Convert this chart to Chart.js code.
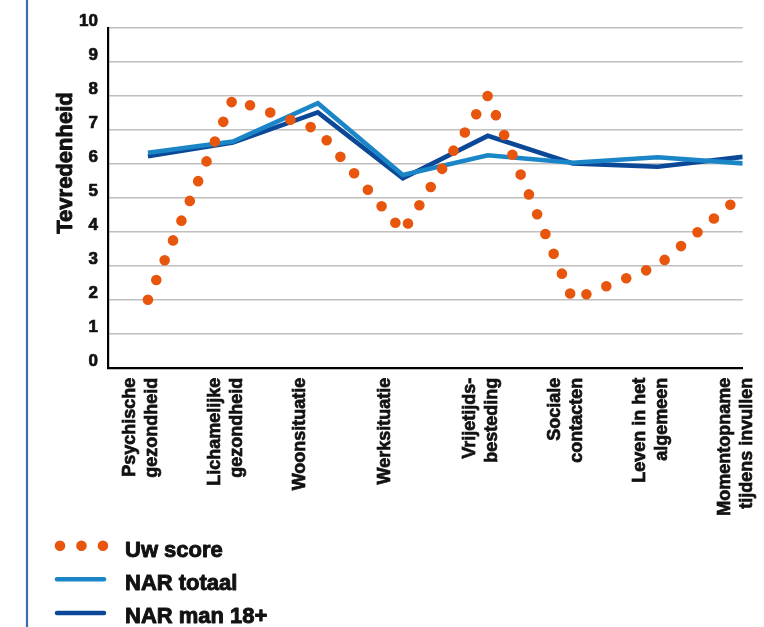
<!DOCTYPE html>
<html><head><meta charset="utf-8">
<script src="https://cdn.jsdelivr.net/npm/chart.js@4.4.1/dist/chart.umd.min.js"></script>
<style>html,body{margin:0;padding:0;background:#fff;}canvas{display:block;}</style>
</head><body>
<canvas id="c" width="764" height="627" style="width:764px;height:627px"></canvas>
<script>
const categories = [
  ["Psychische", "gezondheid"],
  ["Lichamelijke", "gezondheid"],
  "Woonsituatie",
  "Werksituatie",
  ["Vrijetijds-", "besteding"],
  ["Sociale", "contacten"],
  ["Leven in het", "algemeen"],
  ["Momentopname", "tijdens invullen"]
];
const uwScore   = [2.0, 7.9, 7.0, 4.0, 8.0, 2.0, 3.0, 5.1];
const narTotaal = [6.32, 6.65, 7.78, 5.67, 6.25, 6.03, 6.19, 6.01];
const narMan    = [6.22, 6.62, 7.51, 5.57, 6.82, 6.01, 5.91, 6.20];
const yTicks    = [0, 1, 2, 3, 4, 5, 6, 7, 8, 9, 10];
const seriesNames = ["Uw score", "NAR totaal", "NAR man 18+"];
const yTitle = "Tevredenheid";

const FONT = "'Liberation Sans', Arial, Helvetica, sans-serif";
const ORANGE = '#e8560e', LIGHT = '#1a86c8', DARK = '#0b4898';
const INK = '#111';

const toXY = arr => arr.map((v, i) => ({x: i, y: v}));

function heavyText(ctx, text, x, y, sw) {
  ctx.lineWidth = sw;
  ctx.strokeStyle = INK;
  ctx.lineJoin = 'round';
  ctx.setLineDash([]);
  ctx.strokeText(text, x, y);
  ctx.fillText(text, x, y);
}

const decor = {
  id: 'decor',
  beforeDraw(chart) {
    const ctx = chart.ctx;
    ctx.save();
    ctx.fillStyle = '#fff';
    ctx.fillRect(0, 0, chart.width, chart.height);
    ctx.strokeStyle = '#3b6cb2';
    ctx.lineWidth = 2.2;
    ctx.beginPath(); ctx.moveTo(27, 0); ctx.lineTo(27, chart.height); ctx.stroke();
    ctx.translate(66, 163);
    ctx.rotate(-Math.PI / 2);
    ctx.font = 'bold 22px ' + FONT;
    ctx.fillStyle = INK;
    ctx.textAlign = 'center';
    ctx.textBaseline = 'middle';
    heavyText(ctx, yTitle, 0, 0, 0.9);
    ctx.restore();
  },
  afterDraw(chart) {
    const ctx = chart.ctx;
    const ds = chart.data.datasets;
    const markY = [545.7, 579.3, 613];
    const textY = [556.5, 589.8, 622.8];
    ctx.save();
    ds.forEach((d, i) => {
      ctx.beginPath();
      ctx.strokeStyle = d.borderColor;
      ctx.lineCap = 'round';
      if (d.borderDash && d.borderDash.length) {
        ctx.lineWidth = d.borderWidth;
        ctx.setLineDash(d.borderDash);
        ctx.moveTo(60, markY[i]); ctx.lineTo(103.5, markY[i]);
      } else {
        ctx.lineWidth = 4.5;
        ctx.setLineDash([]);
        ctx.moveTo(57, markY[i]); ctx.lineTo(104, markY[i]);
      }
      ctx.stroke();
      ctx.setLineDash([]);
      ctx.font = 'bold 22px ' + FONT;
      ctx.fillStyle = INK;
      ctx.textAlign = 'left';
      ctx.textBaseline = 'alphabetic';
      heavyText(ctx, d.label, 125, textY[i], 0.9);
    });
    ctx.restore();
  }
};

new Chart(document.getElementById('c'), {
  type: 'line',
  data: {
    datasets: [
      { label: seriesNames[0], data: toXY(uwScore), borderColor: ORANGE, borderWidth: 10.6,
        borderDash: [0, 21.46], borderCapStyle: 'round', pointRadius: 0, tension: 0, fill: false },
      { label: seriesNames[1], data: toXY(narTotaal), borderColor: LIGHT, borderWidth: 4.6,
        pointRadius: 0, tension: 0, fill: false },
      { label: seriesNames[2], data: toXY(narMan), borderColor: DARK, borderWidth: 4.6,
        pointRadius: 0, tension: 0, fill: false }
    ]
  },
  options: {
    responsive: false,
    animation: false,
    devicePixelRatio: 1,
    layout: { padding: { left: 0, top: 27.7, right: 21.3, bottom: 100 } },
    plugins: { legend: { display: false }, tooltip: { enabled: false } },
    scales: {
      x: {
        type: 'linear',
        min: -0.47, max: categories.length - 1,
        afterBuildTicks: s => { s.ticks = categories.map((c, i) => ({value: i})); },
        afterFit: s => { s.height = 159.3; s.paddingLeft = 0; s.paddingRight = 0; },
        grid: { display: false, drawTicks: false },
        border: { display: true, color: '#000', width: 2.2 },
        ticks: {
          autoSkip: false, minRotation: 90, maxRotation: 90, padding: 10, labelOffset: -18,
          color: INK, textStrokeColor: INK, textStrokeWidth: 0.7,
          font: { family: FONT, size: 18, weight: 'bold', lineHeight: 1.22 },
          callback: v => categories[v]
        }
      },
      y: {
        min: 0, max: 10,
        afterBuildTicks: s => { s.ticks = yTicks.map(v => ({value: v})); },
        afterFit: s => { s.width = 108; s.paddingTop = 0; s.paddingBottom = 0; },
        grid: { drawTicks: false, lineWidth: 1.6,
          color: c => (c.tick && c.tick.value === 0) ? 'rgba(0,0,0,0)' : '#bfbfbf' },
        border: { display: true, color: '#000', width: 2.2 },
        ticks: { padding: 10, labelOffset: -6, color: INK, textStrokeColor: INK, textStrokeWidth: 0.7,
          font: { family: FONT, size: 17, weight: 'bold' } }
      }
    }
  },
  plugins: [decor]
});
</script>
</body></html>
